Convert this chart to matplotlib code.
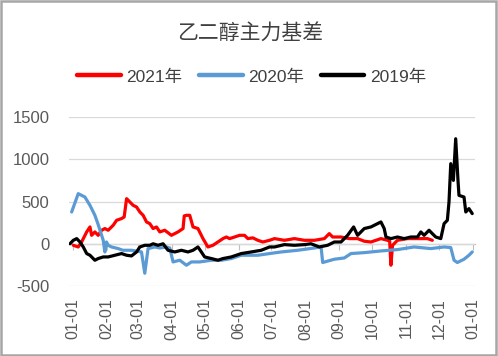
import matplotlib
matplotlib.use("Agg")
import matplotlib.pyplot as plt
from matplotlib.patches import Rectangle

plt.rcParams['font.family'] = ['Liberation Sans', 'Noto Sans CJK SC', 'DejaVu Sans']

# ---- data (day of year, value) ----
days_2021 = [0.3, 4.8, 7.9, 12.5, 15.5, 17.0, 20.0, 23.0, 26.1, 29.1, 32.1, 36.7, 39.8, 44.3, 46.7,
             48.9, 51.9, 54.9, 58.0, 61.0, 64.0, 67.1, 70.1, 73.1, 76.2, 79.2, 83.7, 89.8, 95.8,
             100.4, 101.5, 103.5, 106.5, 109.5, 114.0, 118.6, 123.1, 127.7, 132.2, 136.8, 139.9,
             142.9, 147.4, 152.0, 156.5, 159.5, 164.1, 168.6, 173.2, 179.3, 183.8, 192.9, 202.0,
             211.1, 220.2, 229.3, 233.8, 236.9, 244.5, 252.0, 259.6, 265.7, 271.8, 280.9, 286.9,
             288.9, 290.0, 291.5, 296.0, 305.1, 314.2, 323.3, 327.8]
vals_2021 = [-18, -38, 21, 140, 199, 100, 140, 100, 160, 180, 160, 219, 278, 298, 317,
             534, 494, 455, 435, 376, 337, 258, 238, 180, 199, 140, 160, 100, 140,
             180, 330, 337, 337, 199, 180, 61, -38, -18, 21, 61, 80,
             61, 80, 100, 100, 61, 70, 41, 21, 41, 61, 41, 61,
             41, 41, 61, 120, 80, 80, 61, 61, 30, 21, 61, 41,
             30, -254, -18, 41, 61, 61, 61, 41]

days_2020 = [-1.2, 4.8, 10.9, 15.5, 20.0, 23.0, 27.6, 29.1, 30.6, 32.1, 35.2, 41.2, 45.5, 53.4,
             62.5, 65.5, 68.5, 74.6, 79.2, 85.3, 88.3, 91.3, 97.4, 103.5, 108.0, 115.6, 126.2,
             135.3, 144.4, 153.5, 168.6, 179.3, 189.9, 205.0, 220.2, 226.3, 227.8, 238.4, 247.5,
             253.6, 265.7, 280.9, 296.0, 311.2, 326.4, 338.5, 344.6, 347.6, 350.6, 356.7, 361.2,
             364.2]
vals_2020 = [376, 593, 553, 455, 337, 227, 41, -97, 21, -18, -38, -57, -77, -77,
             -97, -349, -57, -38, -50, -38, -50, -215, -195, -254, -215, -215, -195,
             -195, -175, -136, -136, -116, -97, -77, -50, -38, -222, -183, -168,
             -116, -105, -85, -69, -38, -57, -38, -45, -195, -222, -183, -136,
             -97]

days_2019 = [-2.7, 0.3, 3.4, 6.4, 9.4, 12.5, 15.5, 20.0, 23.0, 27.6, 32.1, 38.2, 44.3, 48.9,
             53.4, 58.0, 61.0, 65.5, 70.1, 73.1, 77.6, 82.2, 86.7, 92.8, 98.9, 104.9, 109.5,
             114.0, 117.1, 120.1, 126.2, 132.2, 136.8, 144.4, 153.5, 162.6, 171.7, 179.3, 183.8,
             192.9, 202.0, 211.1, 217.1, 224.7, 232.3, 238.4, 244.5, 250.5, 256.0, 259.6, 265.7,
             271.8, 277.8, 280.9, 283.9, 285.5, 290.0, 296.0, 302.1, 308.2, 314.2, 317.3, 320.3,
             324.8, 327.8, 330.9, 335.5, 338.5, 341.5, 343.0, 344.6, 347.0, 349.1, 351.2, 352.1,
             356.7, 358.3, 361.2, 364.2]
vals_2019 = [0, 41, 61, 21, -38, -116, -136, -195, -175, -156, -156, -136, -116, -136,
             -144, -97, -38, -18, -18, 0, -18, 0, -77, -97, -77, -97, -77,
             -38, -97, -156, -175, -195, -175, -156, -116, -97, -77, -38, -38,
             -10, -18, -10, 0, -38, -18, 21, 21, 100, 199, 100, 180,
             199, 238, 258, 180, 80, 61, 80, 61, 80, 80, 140, 100,
             160, 120, 80, 61, 238, 278, 494, 948, 750, 1243, 750, 573,
             553, 376, 416, 357]

tick_days = [0, 31, 59, 90, 120, 151, 181, 212, 243, 273, 304, 334, 365]
tick_labels = ['01-01', '02-01', '03-01', '04-01', '05-01', '06-01', '07-01',
               '08-01', '09-01', '10-01', '11-01', '12-01', '01-01']
y_ticks = [-500, 0, 500, 1000, 1500]
series_names = ['2021年', '2020年', '2019年']
colors = ['#FF0000', '#5B9BD5', '#000000']

fig = plt.figure(figsize=(4.98, 3.56), dpi=100)
ax = fig.add_axes([0.1386, 0.1966, 0.8154, 0.4747])

lw = 2.3
for d, v, c, n in [(days_2021, vals_2021, colors[0], series_names[0]),
                   (days_2020, vals_2020, colors[1], series_names[1]),
                   (days_2019, vals_2019, colors[2], series_names[2])]:
    ax.plot(d, v, color=c, lw=lw, label=n, solid_joinstyle='round', solid_capstyle='round')

# reorder z so black on top
ax.set_xlim(-3.6, 366.8)
ax.set_ylim(-500, 1500)
ax.set_yticks(y_ticks)
ax.set_yticklabels([str(t) for t in y_ticks])
ax.grid(axis='y', color='#D9D9D9', lw=0.9)
ax.set_axisbelow(True)
for s in ['top', 'right', 'left']:
    ax.spines[s].set_visible(False)
ax.spines['bottom'].set_position(('data', 0))
ax.spines['bottom'].set_color('#BFBFBF')
ax.spines['bottom'].set_linewidth(0.9)
ax.spines['bottom'].set_zorder(0.5)
ax.set_xticks(tick_days)
ax.tick_params(axis='x', direction='out', length=4, color='#BFBFBF', labelbottom=False)
ax.tick_params(axis='y', length=0, labelsize=12, labelcolor='#595959', pad=14)

sec = ax.secondary_xaxis('bottom')
sec.set_xticks(tick_days)
sec.set_xticklabels(tick_labels, rotation=90)
sec.spines['bottom'].set_visible(False)
sec.tick_params(length=0, labelsize=11.5, labelcolor='#595959', pad=9)

fig.text(0.502, 0.905, '乙二醇主力基差', ha='center', va='center', fontsize=15,
         color='#404040', family=['Noto Sans CJK SC'])

leg = fig.legend(loc='center', bbox_to_anchor=(0.505, 0.784), ncol=3, frameon=False,
                 fontsize=12.5, handlelength=2.5, handletextpad=0.3, columnspacing=1.0,
                 labelcolor='#404040')
for h in leg.get_lines():
    h.set_linewidth(3.2)

fig.patches.append(Rectangle((0.002, 0.003), 0.994, 0.994, transform=fig.transFigure,
                             fill=False, edgecolor='#A6A6A6', lw=1.8))

fig.savefig('out.png', dpi=100)
